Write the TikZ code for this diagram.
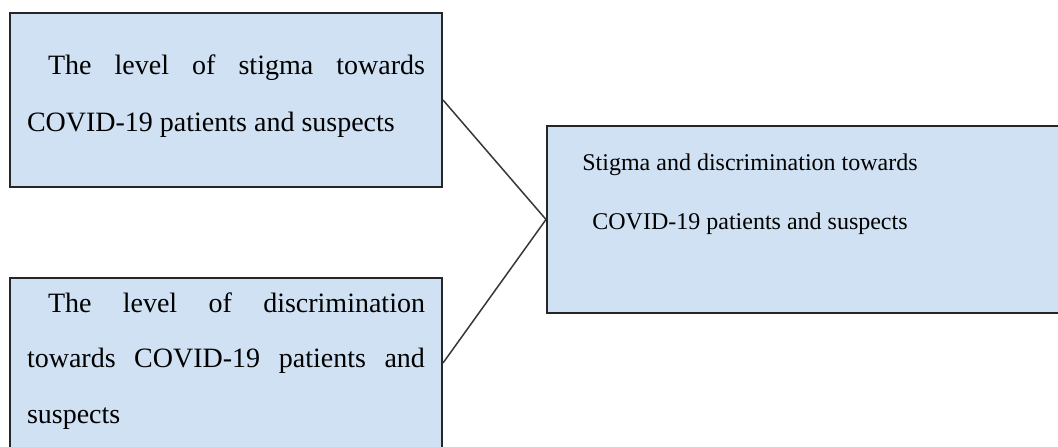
\documentclass[tikz,border=0pt]{standalone}
\usepackage{fontspec}
\setmainfont{Liberation Serif}
\usetikzlibrary{positioning}
\definecolor{boxblue}{RGB}{207,225,242}
\definecolor{edgegray}{RGB}{55,55,55}

\tikzset{
  factor/.style={rectangle, draw=black!85, line width=1pt, fill=boxblue, inner sep=0pt},
  factortext/.style={font=\fontsize{14pt}{28.5pt}\selectfont, text width=199pt, align=justify, inner sep=0pt},
  link/.style={draw=edgegray, line width=0.75pt},
}

\begin{document}
\begin{tikzpicture}[x=0.5pt,y=-0.5pt]
  \useasboundingbox (0,0) rectangle (1058,446);
  \clip (0,0) rectangle (1058,446);

  % independent variables
  \node[factor, minimum width=216pt, minimum height=87pt] (stigma) at (226,100) {};
  \node[factortext, anchor=north] (stigmatext) at (226,54)
    {\hspace*{10.5pt}The level of stigma towards\linebreak COVID-19 patients and suspects};

  \node[factor, minimum width=216pt, minimum height=85pt] (discrim) at (226,363) {};
  \node[factortext, anchor=north, font=\fontsize{14pt}{27.75pt}\selectfont] (discrimtext) at (226,292)
    {\hspace*{10.5pt}The level of discrimination\linebreak towards COVID-19 patients and\linebreak suspects};

  % dependent variable
  \node[factor, minimum width=262pt, minimum height=93.5pt, anchor=west] (outcome) at (546,219.5) {};
  \node[font=\fontsize{12pt}{29.5pt}\selectfont, align=center, inner sep=0pt, anchor=north] (outcometext) at (750,153)
    {Stigma and discrimination towards\\COVID-19 patients and suspects};

  \draw[link] (stigma.east) -- (outcome.west);
  \draw[link] (discrim.east) -- (outcome.west);
\end{tikzpicture}
\end{document}
